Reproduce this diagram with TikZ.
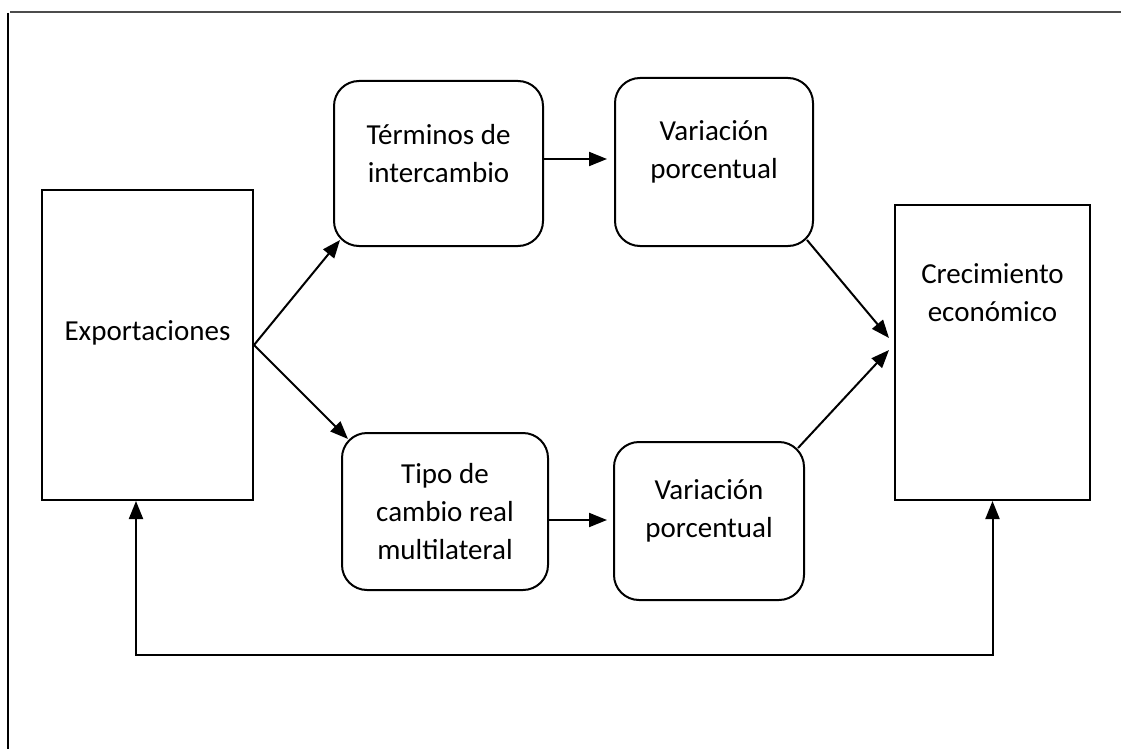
\documentclass[tikz,border=0pt]{standalone}
\usepackage{fontspec}
\setmainfont{Carlito}
\usetikzlibrary{arrows.meta}

\begin{document}
\begin{tikzpicture}[>={Triangle[length=18pt,width=14pt]}, x=1pt, y=-1pt,
		box/.style={draw, line width=2pt, inner sep=0pt},
		rbox/.style={box, rounded corners=25pt},
		txt/.style={font=\fontsize{29}{38}\selectfont, align=center},
		arr/.style={->, line width=2pt}]
				\useasboundingbox (0,0) rectangle (1121,749);

				% Frame
				\draw[gray!60!black, line width=2pt] (10,12) -- (1121,12);
				\draw[line width=2pt] (8,13) -- (8,749);

				% Boxes
				\node[box, minimum width=211pt, minimum height=310pt] (exp) at (147.5,345) {};
				\node[rbox, minimum width=209pt, minimum height=165pt] (tdi) at (438.5,163.5) {};
				\node[rbox, minimum width=198pt, minimum height=168pt] (vpa) at (714,162) {};
				\node[rbox, minimum width=206pt, minimum height=157pt] (tcr) at (445,511.5) {};
				\node[rbox, minimum width=190pt, minimum height=158pt] (vpb) at (709,521) {};
				\node[box, minimum width=195pt, minimum height=295pt] (ce) at (992.5,352.5) {};

				% Texts
				\node[txt] (exp-t) at ([yshift=12pt]exp.center) {Exportaciones};
				\node[txt] (tdi-t) at ([yshift=10pt]tdi.center) {Términos de\\intercambio};
				\node[txt] (vpa-t) at ([yshift=10pt]vpa.center) {Variación\\porcentual};
				\node[txt] (tcr-t) at (tcr.center) {Tipo de\\cambio real\\multilateral};
				\node[txt] (vpb-t) at ([yshift=10pt]vpb.center) {Variación\\porcentual};
				\node[txt] (ce-t) at ([yshift=60pt]ce.center) {Crecimiento\\económico};

				% Arrows
				\draw[arr] (exp.east) -- ([shift={(7,-7)}]tdi.south west);
				\draw[arr] (exp.east) -- ([shift={(7,7)}]tcr.north west);

				\coordinate (ta) at ([yshift=4.5pt]tdi.east);
				\draw[arr, shorten >=7pt] (ta) -- (ta -| vpa.west);
				\coordinate (tb) at ([yshift=-8.5pt]tcr.east);
				\draw[arr, shorten >=6pt] (tb) -- (tb -| vpb.west);

				\draw[arr] ([shift={(-7,-7)}]vpa.south east) -- ([shift={(-5,-14.5)}]ce.west);
				\draw[arr] ([shift={(-7,7)}]vpb.north east) -- ([shift={(-5,-2.5)}]ce.west);

				% Feedback
				\coordinate (fb) at (136,655);
				\draw[arr, <->] (exp.south -| fb) -- (fb) -| (ce.south);
			\end{tikzpicture}
\end{document}
